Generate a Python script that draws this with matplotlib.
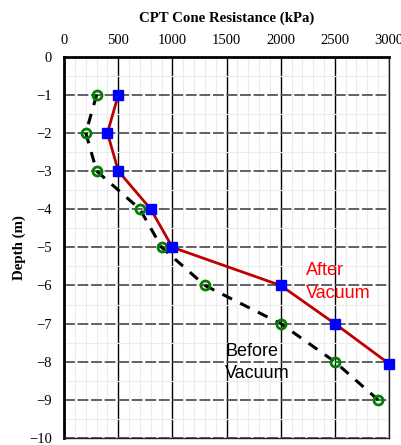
import matplotlib.pyplot as plt
from matplotlib.ticker import MultipleLocator

depth = [-1, -2, -3, -4, -5, -6, -7, -8, -9]
before_vacuum = [300, 200, 300, 700, 900, 1300, 2000, 2500, 2900]
after_depth = [-1, -2, -3, -4, -5, -6, -7, -8.05]
after_vacuum = [500, 400, 500, 800, 1000, 2000, 2500, 3000]

fig = plt.figure(figsize=(4.01, 4.45), dpi=100)
ax = fig.add_axes([0.16, 0.0157, 0.81, 0.857])

ax.set_xlim(0, 3000)
ax.set_ylim(-10, 0)
ax.xaxis.set_major_locator(MultipleLocator(500))
ax.xaxis.set_minor_locator(MultipleLocator(100))
ax.yaxis.set_major_locator(MultipleLocator(1))
ax.yaxis.set_minor_locator(MultipleLocator(0.5))

ax.grid(which='minor', color='#ececec', lw=0.8)
ax.grid(which='major', axis='x', color='black', lw=1.0)
ax.grid(which='major', axis='y', color='#555555', lw=1.3, ls=(0, (6, 1.5)))
ax.set_axisbelow(True)

ax.plot(before_vacuum, depth, color='black', lw=2.2, ls=(0, (3.5, 3)), zorder=3)
ax.plot(before_vacuum, depth, ls='none', marker='o', ms=6.5, mfc='none',
        mec='green', mew=2, zorder=4)
ax.plot(after_vacuum, after_depth, color='#c00000', lw=2, marker='s', ms=7,
        mfc='blue', mec='blue', zorder=5, clip_on=False)

# labels for the two curves
ax.text(2234, -5.72, "After", color='red', fontsize=13, family='Liberation Sans')
ax.text(2234, -6.33, "Vacuum", color='red', fontsize=13, family='Liberation Sans')
ax.text(1486, -7.85, "Before", color='black', fontsize=13, family='Liberation Sans')
ax.text(1486, -8.43, "Vacuum", color='black', fontsize=13, family='Liberation Sans')

ax.xaxis.tick_top()
ax.xaxis.set_label_position('top')
ax.tick_params(which='both', length=0, labelsize=10.5)
ax.tick_params(axis='x', pad=7)
ax.tick_params(axis='y', pad=9)
for lab in ax.get_xticklabels() + ax.get_yticklabels():
    lab.set_family('Liberation Serif')
ax.set_xlabel("CPT Cone Resistance (kPa)", fontsize=10.7, fontweight='bold',
              family='Liberation Serif', labelpad=9)
ax.set_ylabel("Depth (m)", fontsize=10.7, fontweight='bold',
              family='Liberation Serif', labelpad=2)

for side in ['left', 'top']:
    ax.spines[side].set_linewidth(2)
for side in ['right', 'bottom']:
    ax.spines[side].set_linewidth(1)
    ax.spines[side].set_color('#222222')

fig.savefig('out.png', dpi=100)
